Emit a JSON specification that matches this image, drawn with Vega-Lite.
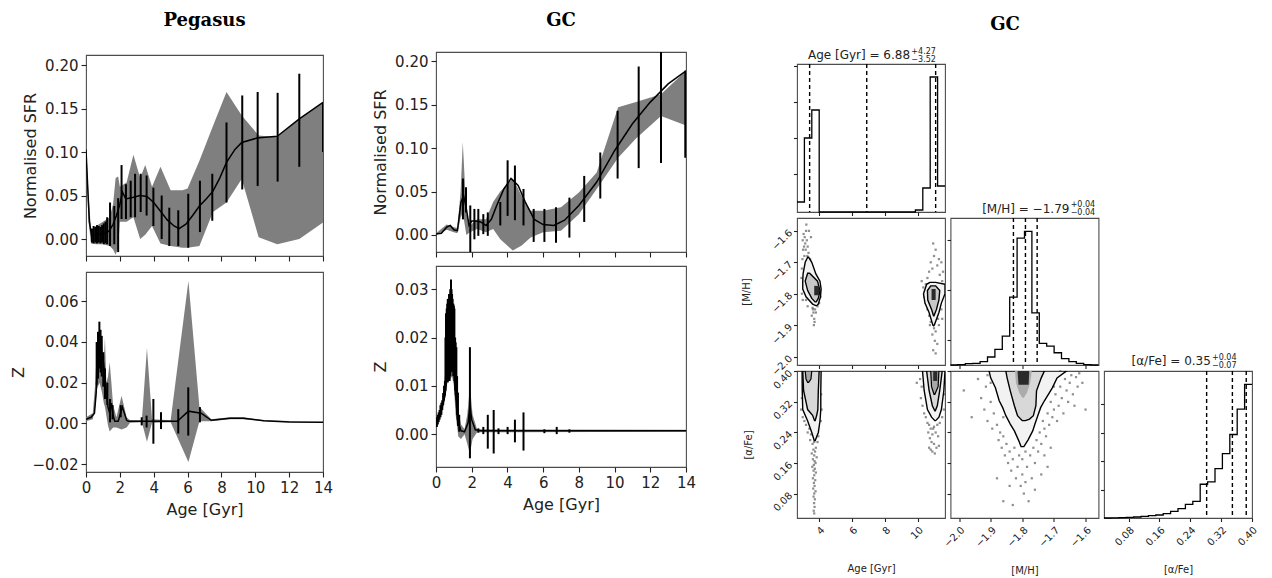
{
 "$schema": "https://vega.github.io/schema/vega-lite/v6.json",
 "padding": {"left": 9, "top": 11, "right": 5, "bottom": 2},
 "background": "white",
 "config": {
  "font": "DejaVu Sans",
  "view": {"stroke": "#4d4d4d", "strokeWidth": 1.1},
  "axis": {"domain": false, "grid": false, "tickColor": "#222", "tickSize": 5, "tickWidth": 1.1, "labelFont": "DejaVu Sans", "labelFontSize": 15, "labelColor": "#222", "labelFlush": false, "labelOverlap": false, "labelSeparation": -100, "titleFont": "DejaVu Sans", "titleFontSize": 16, "titleFontWeight": "normal", "titleColor": "#222", "labelPadding": 3, "titlePadding": 6},
  "title": {"font": "DejaVu Serif", "fontSize": 18, "fontWeight": "bold", "color": "black", "frame": "group", "anchor": "middle"}
 },
 "datasets": {
  "pegSFRline": [{"a":0,"y":0.103},{"a":0.1,"y":0.06},{"a":0.2,"y":0.02},{"a":0.33,"y":0.004},{"a":0.6,"y":0.005},{"a":0.9,"y":0.006},{"a":1.2,"y":0.007},{"a":1.4,"y":0.01},{"a":1.6,"y":0.017},{"a":1.8,"y":0.027},{"a":2.0,"y":0.04},{"a":2.15,"y":0.054},{"a":2.35,"y":0.046},{"a":2.8,"y":0.048},{"a":3.2,"y":0.05},{"a":3.6,"y":0.049},{"a":4.0,"y":0.042},{"a":4.4,"y":0.032},{"a":4.8,"y":0.022},{"a":5.2,"y":0.015},{"a":5.5,"y":0.012},{"a":5.9,"y":0.017},{"a":6.3,"y":0.027},{"a":6.7,"y":0.038},{"a":7.1,"y":0.046},{"a":7.5,"y":0.055},{"a":7.9,"y":0.07},{"a":8.3,"y":0.088},{"a":8.8,"y":0.103},{"a":9.2,"y":0.111},{"a":10.1,"y":0.116},{"a":11.3,"y":0.118},{"a":12.6,"y":0.138},{"a":14,"y":0.157}],
  "pegSFRband": [{"a":0,"y":0.09,"y2":0.112},{"a":0.15,"y":0.02,"y2":0.05},{"a":0.3,"y":-0.005,"y2":0.01},{"a":0.6,"y":-0.006,"y2":0.015},{"a":1.0,"y":-0.006,"y2":0.02},{"a":1.4,"y":-0.008,"y2":0.025},{"a":1.6,"y":-0.012,"y2":0.04},{"a":1.75,"y":-0.018,"y2":0.07},{"a":1.9,"y":-0.01,"y2":0.072},{"a":2.0,"y":0.02,"y2":0.06},{"a":2.4,"y":0.02,"y2":0.065},{"a":2.8,"y":0.025,"y2":0.097},{"a":3.2,"y":0.0,"y2":0.07},{"a":3.5,"y":0.005,"y2":0.085},{"a":3.9,"y":0.015,"y2":0.06},{"a":4.4,"y":-0.005,"y2":0.083},{"a":5.0,"y":-0.008,"y2":0.056},{"a":5.7,"y":-0.01,"y2":0.056},{"a":6.0,"y":-0.01,"y2":0.058},{"a":6.7,"y":-0.008,"y2":0.09},{"a":7.5,"y":0.031,"y2":0.13},{"a":8.3,"y":0.042,"y2":0.169},{"a":9.2,"y":0.069,"y2":0.142},{"a":10.2,"y":0.002,"y2":0.119},{"a":11.3,"y":-0.006,"y2":0.117},{"a":12.6,"y":0.0,"y2":0.138},{"a":14,"y":0.019,"y2":0.157}],
  "pegSFRerr": [{"a":0.35,"y":-0.004,"y2":0.012},{"a":0.45,"y":-0.005,"y2":0.015},{"a":0.55,"y":-0.004,"y2":0.014},{"a":0.65,"y":-0.005,"y2":0.016},{"a":0.75,"y":-0.004,"y2":0.015},{"a":0.85,"y":-0.005,"y2":0.014},{"a":0.95,"y":-0.004,"y2":0.016},{"a":1.05,"y":-0.006,"y2":0.018},{"a":1.15,"y":-0.005,"y2":0.02},{"a":1.25,"y":-0.006,"y2":0.025},{"a":1.42,"y":-0.008,"y2":0.042},{"a":1.67,"y":-0.006,"y2":0.038},{"a":1.9,"y":-0.015,"y2":0.047},{"a":2.1,"y":0.023,"y2":0.085},{"a":2.36,"y":0.023,"y2":0.063},{"a":2.64,"y":0.025,"y2":0.067},{"a":2.9,"y":0.025,"y2":0.075},{"a":3.23,"y":0.031,"y2":0.075},{"a":3.58,"y":0.027,"y2":0.073},{"a":3.98,"y":0.015,"y2":0.059},{"a":4.47,"y":0.0,"y2":0.05},{"a":4.92,"y":-0.008,"y2":0.036},{"a":5.45,"y":-0.008,"y2":0.033},{"a":6.04,"y":-0.01,"y2":0.052},{"a":6.73,"y":0.008,"y2":0.067},{"a":7.46,"y":0.021,"y2":0.075},{"a":8.3,"y":0.042,"y2":0.134},{"a":9.23,"y":0.057,"y2":0.165},{"a":10.14,"y":0.061,"y2":0.169},{"a":11.32,"y":0.066,"y2":0.168},{"a":12.6,"y":0.083,"y2":0.19},{"a":14,"y":0.1,"y2":0.157}],
  "pegZline": [{"a":0,"y":0.002},{"a":0.3,"y":0.003},{"a":0.5,"y":0.005},{"a":0.6,"y":0.015},{"a":0.7,"y":0.032},{"a":0.8,"y":0.043},{"a":0.9,"y":0.03},{"a":1.0,"y":0.032},{"a":1.1,"y":0.025},{"a":1.2,"y":0.015},{"a":1.3,"y":0.008},{"a":1.4,"y":0.005},{"a":1.5,"y":0.01},{"a":1.6,"y":0.004},{"a":1.7,"y":0.001},{"a":1.9,"y":0.001},{"a":2.15,"y":0.008},{"a":2.4,"y":0.0015},{"a":2.5,"y":0.001},{"a":5.4,"y":0.001},{"a":6.05,"y":0.006},{"a":6.8,"y":0.005},{"a":7.4,"y":0.0015},{"a":8.5,"y":0.0025},{"a":9.3,"y":0.0025},{"a":10.5,"y":0.0013},{"a":12,"y":0.0007},{"a":14,"y":0.0005}],
  "pegZband": [{"a":0,"y":0.001,"y2":0.003},{"a":0.4,"y":0.002,"y2":0.005},{"a":0.55,"y":0.008,"y2":0.02},{"a":0.65,"y":0.017,"y2":0.04},{"a":0.8,"y":0.02,"y2":0.041},{"a":0.95,"y":0.015,"y2":0.04},{"a":1.05,"y":0.01,"y2":0.03},{"a":1.12,"y":0.008,"y2":0.042},{"a":1.2,"y":0.004,"y2":0.02},{"a":1.3,"y":-0.001,"y2":0.023},{"a":1.4,"y":-0.004,"y2":0.03},{"a":1.5,"y":-0.003,"y2":0.02},{"a":1.6,"y":-0.002,"y2":0.009},{"a":1.8,"y":-0.002,"y2":0.003},{"a":2.1,"y":-0.003,"y2":0.0136},{"a":2.4,"y":-0.002,"y2":0.003},{"a":2.6,"y":0.0003,"y2":0.0015},{"a":3.3,"y":0.0005,"y2":0.0015},{"a":3.6,"y":-0.009,"y2":0.037},{"a":3.9,"y":0.0003,"y2":0.002},{"a":5.0,"y":0.0005,"y2":0.0015},{"a":6.05,"y":-0.019,"y2":0.07},{"a":6.7,"y":0.001,"y2":0.008},{"a":7.4,"y":0.001,"y2":0.002},{"a":8.5,"y":0.002,"y2":0.003},{"a":9.3,"y":0.002,"y2":0.003},{"a":10.5,"y":0.001,"y2":0.0015},{"a":14,"y":0.0003,"y2":0.0007}],
  "pegZerr": [{"a":0.63,"y":0.019,"y2":0.04},{"a":0.71,"y":0.022,"y2":0.045},{"a":0.79,"y":0.027,"y2":0.05},{"a":0.86,"y":0.025,"y2":0.046},{"a":0.93,"y":0.023,"y2":0.043},{"a":1.02,"y":0.018,"y2":0.035},{"a":1.12,"y":0.012,"y2":0.027},{"a":1.26,"y":0.009,"y2":0.02},{"a":1.42,"y":0.0005,"y2":0.012},{"a":1.57,"y":0.002,"y2":0.009},{"a":2.05,"y":0.003,"y2":0.009},{"a":3.29,"y":-0.001,"y2":0.003},{"a":3.58,"y":-0.002,"y2":0.0038},{"a":3.98,"y":-0.01,"y2":0.012},{"a":4.43,"y":-0.0028,"y2":0.0055},{"a":5.45,"y":-0.005,"y2":0.007},{"a":6.04,"y":-0.006,"y2":0.0177},{"a":6.73,"y":0.0005,"y2":0.008}],
  "gcSFRline": [{"a":0,"y":0.001},{"a":0.3,"y":0.002},{"a":0.6,"y":0.009},{"a":0.8,"y":0.011},{"a":1.0,"y":0.006},{"a":1.2,"y":0.005},{"a":1.4,"y":0.038},{"a":1.55,"y":0.045},{"a":1.7,"y":0.03},{"a":1.85,"y":0.011},{"a":2.0,"y":0.016},{"a":2.2,"y":0.016},{"a":2.5,"y":0.015},{"a":2.8,"y":0.011},{"a":3.1,"y":0.018},{"a":3.4,"y":0.034},{"a":3.8,"y":0.053},{"a":4.2,"y":0.065},{"a":4.6,"y":0.057},{"a":5.0,"y":0.038},{"a":5.5,"y":0.018},{"a":6.0,"y":0.012},{"a":6.6,"y":0.011},{"a":7.2,"y":0.017},{"a":8.0,"y":0.034},{"a":9.0,"y":0.061},{"a":10.0,"y":0.097},{"a":11.0,"y":0.128},{"a":12.0,"y":0.153},{"a":13.0,"y":0.174},{"a":14.0,"y":0.189}],
  "gcSFRband": [{"a":0,"y":0.0,"y2":0.002},{"a":0.6,"y":0.006,"y2":0.012},{"a":1.0,"y":0.003,"y2":0.009},{"a":1.2,"y":0.002,"y2":0.008},{"a":1.38,"y":0.02,"y2":0.05},{"a":1.5,"y":0.026,"y2":0.107},{"a":1.7,"y":0.0,"y2":0.026},{"a":1.9,"y":0.003,"y2":0.011},{"a":2.3,"y":0.007,"y2":0.018},{"a":2.8,"y":0.003,"y2":0.018},{"a":3.2,"y":0.007,"y2":0.038},{"a":3.6,"y":-0.005,"y2":0.05},{"a":4.3,"y":-0.018,"y2":0.065},{"a":4.8,"y":-0.012,"y2":0.045},{"a":5.3,"y":-0.003,"y2":0.028},{"a":6.0,"y":0.003,"y2":0.028},{"a":7.0,"y":0.005,"y2":0.032},{"a":8.0,"y":0.024,"y2":0.049},{"a":9.0,"y":0.053,"y2":0.072},{"a":10.2,"y":0.089,"y2":0.147},{"a":11.2,"y":0.111,"y2":0.153},{"a":12.6,"y":0.137,"y2":0.162},{"a":14,"y":0.126,"y2":0.189}],
  "gcSFRerr": [{"a":1.51,"y":0.018,"y2":0.065},{"a":1.68,"y":0.026,"y2":0.055},{"a":1.92,"y":-0.02,"y2":0.034},{"a":2.15,"y":-0.005,"y2":0.03},{"a":2.37,"y":-0.001,"y2":0.03},{"a":2.65,"y":0.001,"y2":0.024},{"a":2.9,"y":-0.001,"y2":0.026},{"a":3.6,"y":0.011,"y2":0.038},{"a":4.01,"y":0.022,"y2":0.086},{"a":4.42,"y":0.017,"y2":0.08},{"a":4.9,"y":0.011,"y2":0.053},{"a":5.47,"y":-0.008,"y2":0.03},{"a":6.07,"y":-0.008,"y2":0.03},{"a":6.72,"y":-0.009,"y2":0.032},{"a":7.47,"y":-0.003,"y2":0.043},{"a":8.3,"y":0.015,"y2":0.068},{"a":9.2,"y":0.042,"y2":0.095},{"a":10.17,"y":0.065,"y2":0.143},{"a":11.35,"y":0.077,"y2":0.194},{"a":12.6,"y":0.083,"y2":0.215},{"a":13.96,"y":0.089,"y2":0.189}],
  "gcZline": [{"a":0,"y":0.002},{"a":0.3,"y":0.005},{"a":0.5,"y":0.008},{"a":0.6,"y":0.011},{"a":0.7,"y":0.018},{"a":0.8,"y":0.022},{"a":0.9,"y":0.026},{"a":1.0,"y":0.018},{"a":1.1,"y":0.0086},{"a":1.2,"y":0.003},{"a":1.4,"y":0.0007},{"a":1.6,"y":0.0005},{"a":1.8,"y":0.0024},{"a":1.9,"y":0.006},{"a":2.0,"y":0.003},{"a":2.2,"y":0.0009},{"a":2.5,"y":0.0007},{"a":14,"y":0.0007}],
  "gcZband": [{"a":0,"y":0.0015,"y2":0.0025},{"a":0.3,"y":0.004,"y2":0.006},{"a":0.5,"y":0.007,"y2":0.012},{"a":0.6,"y":0.011,"y2":0.025},{"a":0.75,"y":0.011,"y2":0.028},{"a":0.9,"y":0.012,"y2":0.028},{"a":1.0,"y":0.01,"y2":0.022},{"a":1.1,"y":0.004,"y2":0.014},{"a":1.25,"y":-0.0005,"y2":0.005},{"a":1.4,"y":-0.001,"y2":0.002},{"a":1.6,"y":0.0,"y2":0.001},{"a":1.75,"y":-0.002,"y2":0.004},{"a":1.9,"y":-0.004,"y2":0.01},{"a":2.05,"y":-0.001,"y2":0.004},{"a":2.3,"y":0.0004,"y2":0.001},{"a":14,"y":0.0005,"y2":0.0009}],
  "gcZerr": [{"a":0.05,"y":0.0015,"y2":0.0035},{"a":0.1,"y":0.002,"y2":0.004},{"a":0.15,"y":0.0025,"y2":0.0045},{"a":0.2,"y":0.003,"y2":0.005},{"a":0.25,"y":0.0035,"y2":0.006},{"a":0.3,"y":0.004,"y2":0.0065},{"a":0.35,"y":0.005,"y2":0.007},{"a":0.4,"y":0.006,"y2":0.0085},{"a":0.45,"y":0.007,"y2":0.01},{"a":0.5,"y":0.008,"y2":0.011},{"a":0.53,"y":0.009,"y2":0.02},{"a":0.56,"y":0.01,"y2":0.025},{"a":0.6,"y":0.011,"y2":0.026},{"a":0.63,"y":0.011,"y2":0.027},{"a":0.66,"y":0.0107,"y2":0.028},{"a":0.7,"y":0.011,"y2":0.027},{"a":0.73,"y":0.011,"y2":0.029},{"a":0.76,"y":0.011,"y2":0.028},{"a":0.8,"y":0.012,"y2":0.03},{"a":0.84,"y":0.0128,"y2":0.032},{"a":0.87,"y":0.013,"y2":0.03},{"a":0.9,"y":0.013,"y2":0.029},{"a":0.93,"y":0.013,"y2":0.028},{"a":0.97,"y":0.012,"y2":0.027},{"a":1.0,"y":0.012,"y2":0.0266},{"a":1.03,"y":0.011,"y2":0.026},{"a":1.07,"y":0.009,"y2":0.02},{"a":1.1,"y":0.008,"y2":0.019},{"a":1.14,"y":0.007,"y2":0.018},{"a":1.18,"y":0.004,"y2":0.012},{"a":1.23,"y":0.0017,"y2":0.0086},{"a":1.3,"y":0.0005,"y2":0.004},{"a":1.9,"y":-0.005,"y2":0.018},{"a":2.37,"y":0.0003,"y2":0.0012},{"a":2.65,"y":0.0,"y2":0.0015},{"a":2.9,"y":-0.003,"y2":0.004},{"a":3.23,"y":-0.004,"y2":0.005},{"a":3.5,"y":0.0,"y2":0.0012},{"a":4.01,"y":0.0,"y2":0.0015},{"a":4.42,"y":-0.0017,"y2":0.003},{"a":4.9,"y":-0.0034,"y2":0.0045},{"a":6.07,"y":0.0002,"y2":0.001},{"a":6.76,"y":0.0,"y2":0.0015},{"a":7.47,"y":0.0003,"y2":0.001}],
  "ageHist": [{"e":2.65,"h":10},{"e":3.101,"h":74},{"e":3.552,"h":102},{"e":4.003,"h":0},{"e":9.866,"h":2},{"e":10.317,"h":24},{"e":10.768,"h":135},{"e":11.219,"h":26},{"e":11.67,"h":26}],
  "ageQ": [{"e":3.42},{"e":6.9},{"e":11.1}],
  "mhHist": [{"e":-2.027,"h":0},{"e":-2.0036,"h":0.3},{"e":-1.9802,"h":1.3},{"e":-1.9568,"h":1.7},{"e":-1.9334,"h":3.3},{"e":-1.91,"h":8},{"e":-1.8866,"h":15.7},{"e":-1.8632,"h":29},{"e":-1.8398,"h":68},{"e":-1.8164,"h":127.3},{"e":-1.793,"h":134},{"e":-1.7696,"h":52.3},{"e":-1.7462,"h":21.7},{"e":-1.7228,"h":19},{"e":-1.6994,"h":12.3},{"e":-1.676,"h":6.3},{"e":-1.6526,"h":3.3},{"e":-1.6292,"h":1.7},{"e":-1.6058,"h":0.3},{"e":-1.5824,"h":0},{"e":-1.559,"h":0}],
  "mhQ": [{"e":-1.828},{"e":-1.79},{"e":-1.753}],
  "alHist": [{"e":0.016,"h":0},{"e":0.03525,"h":0.17},{"e":0.0545,"h":0.33},{"e":0.07375,"h":0.67},{"e":0.093,"h":1},{"e":0.11225,"h":1.67},{"e":0.1315,"h":2.33},{"e":0.15075,"h":3},{"e":0.17,"h":4.33},{"e":0.18925,"h":6.67},{"e":0.2085,"h":9.33},{"e":0.22775,"h":13.67},{"e":0.247,"h":16.67},{"e":0.26625,"h":33.67},{"e":0.2855,"h":36},{"e":0.30475,"h":49.33},{"e":0.324,"h":64.33},{"e":0.34325,"h":83.33},{"e":0.3625,"h":108.67},{"e":0.38175,"h":133.33},{"e":0.401,"h":133.33}],
  "alQ": [{"e":0.283},{"e":0.35},{"e":0.386}],
  "ptsMhAge": [{"x":3.05,"y":-1.61},{"x":3.12,"y":-1.62},{"x":3.2,"y":-1.6},{"x":3.0,"y":-1.63},{"x":3.15,"y":-1.64},{"x":3.25,"y":-1.63},{"x":3.08,"y":-1.65},{"x":3.3,"y":-1.65},{"x":3.18,"y":-1.66},{"x":3.02,"y":-1.66},{"x":3.35,"y":-1.67},{"x":3.1,"y":-1.68},{"x":3.28,"y":-1.68},{"x":3.45,"y":-1.69},{"x":2.98,"y":-1.69},{"x":3.4,"y":-1.7},{"x":3.55,"y":-1.71},{"x":2.95,"y":-1.72},{"x":3.6,"y":-1.73},{"x":3.7,"y":-1.74},{"x":2.92,"y":-1.75},{"x":3.85,"y":-1.76},{"x":3.95,"y":-1.77},{"x":4.05,"y":-1.79},{"x":4.08,"y":-1.81},{"x":2.95,"y":-1.8},{"x":3.0,"y":-1.82},{"x":4.0,"y":-1.83},{"x":3.6,"y":-1.845},{"x":3.75,"y":-1.85},{"x":3.65,"y":-1.86},{"x":3.8,"y":-1.86},{"x":3.55,"y":-1.87},{"x":3.7,"y":-1.88},{"x":3.68,"y":-1.9},{"x":3.62,"y":-1.85},{"x":3.9,"y":-1.84},{"x":3.3,"y":-1.84},{"x":3.2,"y":-1.82},{"x":3.5,"y":-1.62},{"x":3.38,"y":-1.6},{"x":3.22,"y":-1.58},{"x":3.72,"y":-1.89},{"x":10.95,"y":-1.64},{"x":11.1,"y":-1.66},{"x":11.0,"y":-1.68},{"x":11.3,"y":-1.69},{"x":10.8,"y":-1.7},{"x":11.2,"y":-1.71},{"x":11.45,"y":-1.7},{"x":10.9,"y":-1.72},{"x":11.55,"y":-1.73},{"x":10.7,"y":-1.73},{"x":11.35,"y":-1.74},{"x":10.6,"y":-1.75},{"x":11.5,"y":-1.76},{"x":10.5,"y":-1.77},{"x":10.45,"y":-1.79},{"x":10.4,"y":-1.81},{"x":10.5,"y":-1.83},{"x":10.6,"y":-1.85},{"x":11.45,"y":-1.85},{"x":11.5,"y":-1.88},{"x":10.7,"y":-1.87},{"x":10.75,"y":-1.9},{"x":11.3,"y":-1.9},{"x":11.1,"y":-1.92},{"x":10.9,"y":-1.93},{"x":11.05,"y":-1.95},{"x":11.2,"y":-1.96},{"x":10.95,"y":-1.98},{"x":11.1,"y":-1.99},{"x":11.0,"y":-1.91},{"x":10.8,"y":-1.89},{"x":11.25,"y":-1.88},{"x":10.35,"y":-1.78},{"x":11.6,"y":-1.8},{"x":10.25,"y":-1.76}],
  "cMhAge": [{"g":"L","k":"o","y":-1.684,"x":3.3,"x2":3.36},{"g":"L","k":"o","y":-1.7,"x":3.15,"x2":3.55},{"g":"L","k":"o","y":-1.737,"x":3.02,"x2":3.8},{"g":"L","k":"o","y":-1.76,"x":3.0,"x2":4.05},{"g":"L","k":"o","y":-1.785,"x":3.0,"x2":4.12},{"g":"L","k":"o","y":-1.81,"x":3.2,"x2":4.08},{"g":"L","k":"o","y":-1.833,"x":3.6,"x2":3.95},{"g":"L","k":"o","y":-1.838,"x":3.8,"x2":3.85},
   {"g":"L","k":"m","y":-1.735,"x":3.3,"x2":3.42},{"g":"L","k":"m","y":-1.76,"x":3.15,"x2":3.9},{"g":"L","k":"m","y":-1.79,"x":3.3,"x2":4.05},{"g":"L","k":"m","y":-1.815,"x":3.55,"x2":3.95},{"g":"L","k":"m","y":-1.826,"x":3.75,"x2":3.82},
   {"g":"L","k":"c","y":-1.775,"x":3.7,"x2":4.0},{"g":"L","k":"c","y":-1.805,"x":3.7,"x2":4.0},
   {"g":"R","k":"o","y":-1.764,"x":10.75,"x2":11.1},{"g":"R","k":"o","y":-1.77,"x":10.55,"x2":11.67},{"g":"R","k":"o","y":-1.8,"x":10.36,"x2":11.67},{"g":"R","k":"o","y":-1.83,"x":10.45,"x2":11.45},{"g":"R","k":"o","y":-1.86,"x":10.7,"x2":11.3},{"g":"R","k":"o","y":-1.9,"x":10.93,"x2":11.02},{"g":"R","k":"o","y":-1.902,"x":10.97,"x2":10.98},
   {"g":"R","k":"m","y":-1.775,"x":10.8,"x2":11.1},{"g":"R","k":"m","y":-1.79,"x":10.6,"x2":11.35},{"g":"R","k":"m","y":-1.82,"x":10.62,"x2":11.3},{"g":"R","k":"m","y":-1.85,"x":10.85,"x2":11.15},{"g":"R","k":"m","y":-1.87,"x":10.97,"x2":11.0},
   {"g":"R","k":"c","y":-1.785,"x":10.85,"x2":11.1},{"g":"R","k":"c","y":-1.82,"x":10.85,"x2":11.1}],
  "ptsAlAge": [{"x":3.7,"y":0.215},{"x":3.6,"y":0.21},{"x":3.8,"y":0.2},{"x":3.65,"y":0.195},{"x":3.75,"y":0.19},{"x":3.55,"y":0.185},{"x":3.7,"y":0.18},{"x":3.85,"y":0.175},{"x":3.62,"y":0.17},{"x":3.72,"y":0.165},{"x":3.78,"y":0.16},{"x":3.68,"y":0.155},{"x":3.58,"y":0.15},{"x":3.74,"y":0.145},{"x":3.66,"y":0.14},{"x":3.8,"y":0.135},{"x":3.7,"y":0.128},{"x":3.62,"y":0.12},{"x":3.76,"y":0.115},{"x":3.68,"y":0.108},{"x":3.72,"y":0.1},{"x":3.64,"y":0.093},{"x":3.78,"y":0.086},{"x":3.7,"y":0.08},{"x":3.66,"y":0.072},{"x":3.74,"y":0.065},{"x":3.69,"y":0.055},{"x":3.72,"y":0.045},{"x":3.67,"y":0.035},{"x":3.7,"y":0.028},{"x":2.95,"y":0.33},{"x":2.9,"y":0.3},{"x":3.0,"y":0.28},{"x":3.1,"y":0.27},{"x":3.2,"y":0.26},{"x":3.4,"y":0.25},{"x":4.1,"y":0.27},{"x":4.15,"y":0.3},{"x":4.12,"y":0.34},{"x":3.3,"y":0.24},{"x":3.5,"y":0.235},{"x":3.95,"y":0.23},{"x":3.9,"y":0.215},{"x":3.45,"y":0.22},{"x":10.25,"y":0.36},{"x":10.2,"y":0.33},{"x":10.3,"y":0.31},{"x":10.4,"y":0.29},{"x":10.5,"y":0.28},{"x":11.5,"y":0.28},{"x":11.6,"y":0.3},{"x":11.62,"y":0.34},{"x":10.6,"y":0.265},{"x":10.7,"y":0.26},{"x":10.8,"y":0.25},{"x":11.0,"y":0.255},{"x":11.2,"y":0.26},{"x":11.35,"y":0.265},{"x":10.65,"y":0.24},{"x":10.9,"y":0.235},{"x":11.1,"y":0.24},{"x":10.75,"y":0.225},{"x":11.25,"y":0.23},{"x":10.85,"y":0.215},{"x":11.0,"y":0.21},{"x":10.7,"y":0.2},{"x":11.15,"y":0.2},{"x":10.9,"y":0.19},{"x":11.05,"y":0.185},{"x":10.8,"y":0.195},{"x":11.3,"y":0.205},{"x":10.95,"y":0.25},{"x":10.15,"y":0.38},{"x":9.95,"y":0.37}],
  "cAlAge": [{"g":"L","k":"o","y":0.219,"x":3.7,"x2":3.76},{"g":"L","k":"o","y":0.24,"x":3.55,"x2":3.95},{"g":"L","k":"o","y":0.27,"x":3.3,"x2":4.05},{"g":"L","k":"o","y":0.3,"x":3.0,"x2":4.1},{"g":"L","k":"o","y":0.35,"x":2.97,"x2":4.1},{"g":"L","k":"o","y":0.401,"x":2.96,"x2":4.12},
   {"g":"L","k":"m","y":0.271,"x":3.72,"x2":3.76},{"g":"L","k":"m","y":0.285,"x":3.6,"x2":3.85},{"g":"L","k":"m","y":0.3,"x":3.3,"x2":3.92},{"g":"L","k":"m","y":0.35,"x":3.05,"x2":3.95},{"g":"L","k":"m","y":0.401,"x":3.0,"x2":4.0},
   {"g":"L","k":"i","y":0.371,"x":3.3,"x2":3.36},{"g":"L","k":"i","y":0.38,"x":3.2,"x2":3.5},{"g":"L","k":"i","y":0.401,"x":3.15,"x2":3.55},
   {"g":"R","k":"o","y":0.271,"x":11.05,"x2":11.1},{"g":"R","k":"o","y":0.28,"x":10.85,"x2":11.3},{"g":"R","k":"o","y":0.3,"x":10.6,"x2":11.45},{"g":"R","k":"o","y":0.35,"x":10.4,"x2":11.6},{"g":"R","k":"o","y":0.401,"x":10.3,"x2":11.67},
   {"g":"R","k":"m","y":0.297,"x":11.05,"x2":11.08},{"g":"R","k":"m","y":0.31,"x":10.9,"x2":11.2},{"g":"R","k":"m","y":0.35,"x":10.7,"x2":11.35},{"g":"R","k":"m","y":0.401,"x":10.55,"x2":11.5},
   {"g":"R","k":"i","y":0.34,"x":11.0,"x2":11.05},{"g":"R","k":"i","y":0.36,"x":10.85,"x2":11.25},{"g":"R","k":"i","y":0.401,"x":10.8,"x2":11.3},
   {"g":"R","k":"c","y":0.375,"x":10.95,"x2":11.2},{"g":"R","k":"c","y":0.401,"x":10.95,"x2":11.2}],
  "ptsAlMh": [{"x":-1.985,"y":0.35},{"x":-1.96,"y":0.28},{"x":-1.94,"y":0.38},{"x":-1.93,"y":0.33},{"x":-1.92,"y":0.3},{"x":-1.915,"y":0.36},{"x":-1.91,"y":0.27},{"x":-1.9,"y":0.32},{"x":-1.895,"y":0.25},{"x":-1.89,"y":0.29},{"x":-1.88,"y":0.26},{"x":-1.875,"y":0.22},{"x":-1.87,"y":0.24},{"x":-1.865,"y":0.2},{"x":-1.86,"y":0.23},{"x":-1.855,"y":0.18},{"x":-1.85,"y":0.21},{"x":-1.845,"y":0.16},{"x":-1.84,"y":0.19},{"x":-1.835,"y":0.14},{"x":-1.83,"y":0.17},{"x":-1.825,"y":0.2},{"x":-1.82,"y":0.12},{"x":-1.815,"y":0.15},{"x":-1.81,"y":0.18},{"x":-1.805,"y":0.1},{"x":-1.8,"y":0.13},{"x":-1.8,"y":0.17},{"x":-1.795,"y":0.08},{"x":-1.79,"y":0.19},{"x":-1.79,"y":0.11},{"x":-1.785,"y":0.15},{"x":-1.78,"y":0.06},{"x":-1.775,"y":0.18},{"x":-1.77,"y":0.12},{"x":-1.765,"y":0.2},{"x":-1.76,"y":0.16},{"x":-1.755,"y":0.22},{"x":-1.75,"y":0.19},{"x":-1.745,"y":0.24},{"x":-1.74,"y":0.21},{"x":-1.735,"y":0.27},{"x":-1.73,"y":0.25},{"x":-1.725,"y":0.23},{"x":-1.72,"y":0.29},{"x":-1.715,"y":0.26},{"x":-1.71,"y":0.32},{"x":-1.705,"y":0.28},{"x":-1.7,"y":0.3},{"x":-1.695,"y":0.34},{"x":-1.69,"y":0.27},{"x":-1.685,"y":0.31},{"x":-1.68,"y":0.36},{"x":-1.675,"y":0.33},{"x":-1.67,"y":0.29},{"x":-1.665,"y":0.38},{"x":-1.66,"y":0.35},{"x":-1.655,"y":0.32},{"x":-1.65,"y":0.37},{"x":-1.645,"y":0.39},{"x":-1.64,"y":0.34},{"x":-1.635,"y":0.31},{"x":-1.63,"y":0.385},{"x":-1.625,"y":0.36},{"x":-1.62,"y":0.395},{"x":-1.61,"y":0.37},{"x":-1.6,"y":0.3},{"x":-1.73,"y":0.18},{"x":-1.72,"y":0.15},{"x":-1.71,"y":0.2},{"x":-1.84,"y":0.1},{"x":-1.83,"y":0.05},{"x":-1.86,"y":0.06},{"x":-1.76,"y":0.09},{"x":-1.74,"y":0.13},{"x":-1.88,"y":0.12},{"x":-1.9,"y":0.37},{"x":-1.91,"y":0.39},{"x":-1.87,"y":0.35},{"x":-1.86,"y":0.28},{"x":-1.69,"y":0.39},{"x":-1.7,"y":0.36},{"x":-1.68,"y":0.4}],
  "cAlMh": [{"k":"o","y":0.203,"x":-1.804,"x2":-1.795},{"k":"o","y":0.22,"x":-1.812,"x2":-1.782},{"k":"o","y":0.244,"x":-1.825,"x2":-1.767},{"k":"o","y":0.262,"x":-1.838,"x2":-1.76},{"k":"o","y":0.284,"x":-1.852,"x2":-1.751},{"k":"o","y":0.305,"x":-1.862,"x2":-1.742},{"k":"o","y":0.323,"x":-1.873,"x2":-1.73},{"k":"o","y":0.357,"x":-1.885,"x2":-1.705},{"k":"o","y":0.383,"x":-1.9,"x2":-1.69},{"k":"o","y":0.401,"x":-1.905,"x2":-1.66},
   {"k":"m","y":0.271,"x":-1.8,"x2":-1.79},{"k":"m","y":0.275,"x":-1.805,"x2":-1.777},{"k":"m","y":0.284,"x":-1.815,"x2":-1.765},{"k":"m","y":0.31,"x":-1.825,"x2":-1.757},{"k":"m","y":0.349,"x":-1.838,"x2":-1.755},{"k":"m","y":0.383,"x":-1.848,"x2":-1.74},{"k":"m","y":0.401,"x":-1.852,"x2":-1.73},
   {"k":"i","y":0.331,"x":-1.8,"x2":-1.795},{"k":"i","y":0.345,"x":-1.81,"x2":-1.785},{"k":"i","y":0.37,"x":-1.82,"x2":-1.775},{"k":"i","y":0.401,"x":-1.823,"x2":-1.77},
   {"k":"c","y":0.365,"x":-1.812,"x2":-1.78},{"k":"c","y":0.401,"x":-1.815,"x2":-1.778}]
 },
 "spacing": 44,
 "hconcat": [
  {
   "spacing": 38,
   "hconcat": [
    {
     "bounds": "flush",
     "spacing": 16,
     "vconcat": [
      {"width": 237, "height": 4, "data": {"values": [{}]}, "mark": {"type": "text", "text": ""}, "view": {"stroke": null}, "title": {"text": "Pegasus", "offset": 1}},
      {
       "width": 237, "height": 201,
       "encoding": {
        "x": {"field": "a", "type": "quantitative", "scale": {"domain": [0, 14]}, "axis": {"values": [0,2,4,6,8,10,12,14], "labels": false, "labelOverlap": false, "labelSeparation": -100}, "title": null},
        "y": {"field": "y", "type": "quantitative", "scale": {"domain": [-0.0195, 0.2115]}, "axis": {"values": [0,0.05,0.1,0.15,0.2], "format": ".2f", "labelOverlap": false, "labelSeparation": -100}, "title": "Normalised SFR"}
       },
       "layer": [
        {"data": {"name": "pegSFRband"}, "mark": {"type": "area", "color": "#7f7f7f", "opacity": 1, "clip": true}, "encoding": {"y2": {"field": "y2"}}},
        {"data": {"name": "pegSFRline"}, "mark": {"type": "line", "color": "black", "strokeWidth": 1.5, "clip": true}},
        {"data": {"name": "pegSFRerr"}, "mark": {"type": "rule", "color": "black", "strokeWidth": 2, "clip": true}, "encoding": {"y2": {"field": "y2"}}}
       ]
      },
      {
       "width": 237, "height": 200,
       "encoding": {
        "x": {"field": "a", "type": "quantitative", "scale": {"domain": [0, 14]}, "axis": {"values": [0,2,4,6,8,10,12,14], "format": "d", "labelOverlap": false, "labelSeparation": -100, "labelFlush": false}, "title": "Age [Gyr]"},
        "y": {"field": "y", "type": "quantitative", "scale": {"domain": [-0.0239, 0.0744]}, "axis": {"values": [-0.02,0,0.02,0.04,0.06], "format": ".2f", "labelOverlap": false, "labelSeparation": -100}, "title": "Z"}
       },
       "layer": [
        {"data": {"name": "pegZband"}, "mark": {"type": "area", "color": "#7f7f7f", "opacity": 1, "clip": true}, "encoding": {"y2": {"field": "y2"}}},
        {"data": {"name": "pegZline"}, "mark": {"type": "line", "color": "black", "strokeWidth": 1.5, "clip": true}},
        {"data": {"name": "pegZerr"}, "mark": {"type": "rule", "color": "black", "strokeWidth": 2, "clip": true}, "encoding": {"y2": {"field": "y2"}}}
       ]
      }
     ]
    },
    {
     "bounds": "flush",
     "spacing": 14,
     "vconcat": [
      {"width": 250, "height": 3, "data": {"values": [{}]}, "mark": {"type": "text", "text": ""}, "view": {"stroke": null}, "title": {"text": "GC", "offset": 1}},
      {
       "width": 250, "height": 200,
       "encoding": {
        "x": {"field": "a", "type": "quantitative", "scale": {"domain": [0, 14]}, "axis": {"values": [0,2,4,6,8,10,12,14], "labels": false, "labelOverlap": false, "labelSeparation": -100}, "title": null},
        "y": {"field": "y", "type": "quantitative", "scale": {"domain": [-0.0196, 0.2107]}, "axis": {"values": [0,0.05,0.1,0.15,0.2], "format": ".2f", "labelOverlap": false, "labelSeparation": -100}, "title": "Normalised SFR"}
       },
       "layer": [
        {"data": {"name": "gcSFRband"}, "mark": {"type": "area", "color": "#7f7f7f", "opacity": 1, "clip": true}, "encoding": {"y2": {"field": "y2"}}},
        {"data": {"name": "gcSFRline"}, "mark": {"type": "line", "color": "black", "strokeWidth": 1.5, "clip": true}},
        {"data": {"name": "gcSFRerr"}, "mark": {"type": "rule", "color": "black", "strokeWidth": 2, "clip": true}, "encoding": {"y2": {"field": "y2"}}}
       ]
      },
      {
       "width": 250, "height": 201,
       "encoding": {
        "x": {"field": "a", "type": "quantitative", "scale": {"domain": [0, 14]}, "axis": {"values": [0,2,4,6,8,10,12,14], "format": "d", "labelOverlap": false, "labelSeparation": -100, "labelFlush": false}, "title": "Age [Gyr]"},
        "y": {"field": "y", "type": "quantitative", "scale": {"domain": [-0.0068, 0.0348]}, "axis": {"values": [0,0.01,0.02,0.03], "format": ".2f", "labelOverlap": false, "labelSeparation": -100}, "title": "Z"}
       },
       "layer": [
        {"data": {"name": "gcZband"}, "mark": {"type": "area", "color": "#7f7f7f", "opacity": 1, "clip": true}, "encoding": {"y2": {"field": "y2"}}},
        {"data": {"name": "gcZline"}, "mark": {"type": "line", "color": "black", "strokeWidth": 1.5, "clip": true}},
        {"data": {"name": "gcZerr"}, "mark": {"type": "rule", "color": "black", "strokeWidth": 2, "clip": true}, "encoding": {"y2": {"field": "y2"}}}
       ]
      }
     ]
    }
   ]
  },
  {
   "bounds": "flush",
   "columns": 3,
   "spacing": {"row": 6, "column": 5.5},
   "concat": [
    {"width": 148, "height": 23, "data": {"values": [{}]}, "mark": {"type": "text", "text": ""}, "view": {"stroke": null}, "title": {"text": "GC", "offset": 1, "dx": 134}},
    {"width": 148, "height": 23, "data": {"values": [{}]}, "mark": {"type": "text", "text": ""}, "view": {"stroke": null}},
    {"width": 148, "height": 23, "data": {"values": [{}]}, "mark": {"type": "text", "text": ""}, "view": {"stroke": null}},
    {
     "width": 148, "height": 148,
     "layer": [
      {"data": {"name": "ageHist"}, "mark": {"type": "line", "interpolate": "step-after", "color": "black", "strokeWidth": 1.3},
       "encoding": {"x": {"field": "e", "type": "quantitative", "scale": {"domain": [2.65, 11.67]}, "axis": {"values": [4,6,8,10], "labels": false, "tickSize": 3.5}, "title": null},
                    "y": {"field": "h", "type": "quantitative", "scale": {"domain": [0, 148]}, "axis": {"values": [38,74,110,146], "labels": false, "tickSize": 3.5}, "title": null}}},
      {"data": {"name": "ageQ"}, "mark": {"type": "rule", "color": "black", "strokeWidth": 1.4, "strokeDash": [4, 3]},
       "encoding": {"x": {"field": "e", "type": "quantitative", "scale": {"domain": [2.65, 11.67]}, "axis": {"values": [4,6,8,10], "labels": false, "tickSize": 3.5}, "title": null}}},
      {"data": {"values": [{}]}, "mark": {"type": "text", "text": "Age [Gyr] = 6.88", "align": "right", "baseline": "alphabetic", "fontSize": 12, "color": "#222"},
       "encoding": {"x": {"datum": 9.54, "scale": {"domain": [2.65, 11.67]}}, "y": {"datum": 153, "scale": {"domain": [0, 148]}}}},
      {"data": {"values": [{}]}, "mark": {"type": "text", "text": "+4.27", "align": "left", "baseline": "alphabetic", "fontSize": 8, "color": "#222"},
       "encoding": {"x": {"datum": 9.62, "scale": {"domain": [2.65, 11.67]}}, "y": {"datum": 158, "scale": {"domain": [0, 148]}}}},
      {"data": {"values": [{}]}, "mark": {"type": "text", "text": "−3.52", "align": "left", "baseline": "alphabetic", "fontSize": 8, "color": "#222"},
       "encoding": {"x": {"datum": 9.62, "scale": {"domain": [2.65, 11.67]}}, "y": {"datum": 150, "scale": {"domain": [0, 148]}}}}
     ]
    },
    {"width": 148, "height": 148, "data": {"values": [{}]}, "mark": {"type": "text", "text": ""}, "view": {"stroke": null}},
    {"width": 148, "height": 148, "data": {"values": [{}]}, "mark": {"type": "text", "text": ""}, "view": {"stroke": null}},
    {
     "width": 148, "height": 147,
     "encoding": {
      "x": {"field": "x", "type": "quantitative", "scale": {"domain": [2.65, 11.67]}, "axis": {"values": [4,6,8,10], "labels": false, "tickSize": 3.5}, "title": null},
      "y": {"field": "y", "type": "quantitative", "scale": {"domain": [-2.027, -1.559]}, "axis": {"values": [-2.0,-1.9,-1.8,-1.7,-1.6], "format": ".1f", "labelAngle": -45, "labelFontSize": 10, "titleFontSize": 10, "tickSize": 3.5, "titlePadding": 18, "labelOverlap": false, "labelSeparation": -100}, "title": "[M/H]"}
     },
     "layer": [
      {"data": {"name": "ptsMhAge"}, "mark": {"type": "square", "size": 5, "color": "#333", "opacity": 0.55}},
      {"data": {"name": "cMhAge"}, "transform": [{"filter": "datum.k === 'o'"}], "mark": {"type": "area", "orient": "horizontal", "fill": "#f2f2f2", "stroke": "black", "strokeWidth": 1.4, "clip": true},
       "encoding": {"x2": {"field": "x2"}, "detail": {"field": "g"}}},
      {"data": {"name": "cMhAge"}, "transform": [{"filter": "datum.k === 'm'"}], "mark": {"type": "area", "orient": "horizontal", "fill": "#c8c8c8", "stroke": "black", "strokeWidth": 1.4, "clip": true},
       "encoding": {"x2": {"field": "x2"}, "detail": {"field": "g"}}},
      {"data": {"name": "cMhAge"}, "transform": [{"filter": "datum.k === 'c'"}], "mark": {"type": "area", "orient": "horizontal", "fill": "#2a2a2a", "clip": true},
       "encoding": {"x2": {"field": "x2"}, "detail": {"field": "g"}}}
     ]
    },
    {
     "width": 148, "height": 147,
     "layer": [
      {"data": {"name": "mhHist"}, "mark": {"type": "line", "interpolate": "step-after", "color": "black", "strokeWidth": 1.3},
       "encoding": {"x": {"field": "e", "type": "quantitative", "scale": {"domain": [-2.027, -1.559]}, "axis": {"values": [-2.0,-1.9,-1.8,-1.7,-1.6], "labels": false, "tickSize": 3.5}, "title": null},
                    "y": {"field": "h", "type": "quantitative", "scale": {"domain": [0, 147.4]}, "axis": {"values": [25,50,75,100,125], "labels": false, "tickSize": 3.5}, "title": null}}},
      {"data": {"name": "mhQ"}, "mark": {"type": "rule", "color": "black", "strokeWidth": 1.4, "strokeDash": [4, 3]},
       "encoding": {"x": {"field": "e", "type": "quantitative", "scale": {"domain": [-2.027, -1.559]}, "axis": {"values": [-2.0,-1.9,-1.8,-1.7,-1.6], "labels": false, "tickSize": 3.5}, "title": null}}},
      {"data": {"values": [{}]}, "mark": {"type": "text", "text": "[M/H] = −1.79", "align": "right", "baseline": "alphabetic", "fontSize": 12, "color": "#222"},
       "encoding": {"x": {"datum": -1.651, "scale": {"domain": [-2.027, -1.559]}}, "y": {"datum": 152.5, "scale": {"domain": [0, 147.4]}}}},
      {"data": {"values": [{}]}, "mark": {"type": "text", "text": "+0.04", "align": "left", "baseline": "alphabetic", "fontSize": 8, "color": "#222"},
       "encoding": {"x": {"datum": -1.647, "scale": {"domain": [-2.027, -1.559]}}, "y": {"datum": 158, "scale": {"domain": [0, 147.4]}}}},
      {"data": {"values": [{}]}, "mark": {"type": "text", "text": "−0.04", "align": "left", "baseline": "alphabetic", "fontSize": 8, "color": "#222"},
       "encoding": {"x": {"datum": -1.647, "scale": {"domain": [-2.027, -1.559]}}, "y": {"datum": 150, "scale": {"domain": [0, 147.4]}}}}
     ]
    },
    {"width": 148, "height": 147, "data": {"values": [{}]}, "mark": {"type": "text", "text": ""}, "view": {"stroke": null}},
    {
     "width": 148, "height": 147,
     "encoding": {
      "x": {"field": "x", "type": "quantitative", "scale": {"domain": [2.65, 11.67]}, "axis": {"values": [4,6,8,10], "format": "d", "labelAngle": -45, "labelFontSize": 10, "titleFontSize": 10, "tickSize": 3.5, "titlePadding": 23, "labelOverlap": false, "labelSeparation": -100}, "title": "Age [Gyr]"},
      "y": {"field": "y", "type": "quantitative", "scale": {"domain": [0.016, 0.401]}, "axis": {"values": [0.08,0.16,0.24,0.32,0.4], "format": ".2f", "labelAngle": -45, "labelFontSize": 10, "titleFontSize": 10, "tickSize": 3.5, "titlePadding": 18, "labelOverlap": false, "labelSeparation": -100}, "title": "[α/Fe]"}
     },
     "layer": [
      {"data": {"name": "ptsAlAge"}, "mark": {"type": "square", "size": 5, "color": "#333", "opacity": 0.55}},
      {"data": {"name": "cAlAge"}, "transform": [{"filter": "datum.k === 'o'"}], "mark": {"type": "area", "orient": "horizontal", "fill": "#f2f2f2", "stroke": "black", "strokeWidth": 1.4, "clip": true},
       "encoding": {"x2": {"field": "x2"}, "detail": {"field": "g"}}},
      {"data": {"name": "cAlAge"}, "transform": [{"filter": "datum.k === 'm'"}], "mark": {"type": "area", "orient": "horizontal", "fill": "#d8d8d8", "stroke": "black", "strokeWidth": 1.4, "clip": true},
       "encoding": {"x2": {"field": "x2"}, "detail": {"field": "g"}}},
      {"data": {"name": "cAlAge"}, "transform": [{"filter": "datum.k === 'i'"}], "mark": {"type": "area", "orient": "horizontal", "fill": "#a8a8a8", "stroke": "black", "strokeWidth": 1.2, "clip": true},
       "encoding": {"x2": {"field": "x2"}, "detail": {"field": "g"}}},
      {"data": {"name": "cAlAge"}, "transform": [{"filter": "datum.k === 'c'"}], "mark": {"type": "area", "orient": "horizontal", "fill": "#2a2a2a", "clip": true},
       "encoding": {"x2": {"field": "x2"}, "detail": {"field": "g"}}}
     ]
    },
    {
     "width": 148, "height": 147,
     "encoding": {
      "x": {"field": "x", "type": "quantitative", "scale": {"domain": [-2.027, -1.559]}, "axis": {"values": [-2.0,-1.9,-1.8,-1.7,-1.6], "format": ".1f", "labelAngle": -45, "labelFontSize": 10, "titleFontSize": 10, "tickSize": 3.5, "titlePadding": 17, "labelOverlap": false, "labelSeparation": -100}, "title": "[M/H]"},
      "y": {"field": "y", "type": "quantitative", "scale": {"domain": [0.016, 0.401]}, "axis": {"values": [0.08,0.16,0.24,0.32,0.4], "labels": false, "tickSize": 3.5}, "title": null}
     },
     "layer": [
      {"data": {"name": "ptsAlMh"}, "mark": {"type": "square", "size": 5, "color": "#333", "opacity": 0.55}},
      {"data": {"name": "cAlMh"}, "transform": [{"filter": "datum.k === 'o'"}], "mark": {"type": "area", "orient": "horizontal", "fill": "#f2f2f2", "stroke": "black", "strokeWidth": 1.4, "clip": true},
       "encoding": {"x2": {"field": "x2"}}},
      {"data": {"name": "cAlMh"}, "transform": [{"filter": "datum.k === 'm'"}], "mark": {"type": "area", "orient": "horizontal", "fill": "#d8d8d8", "stroke": "black", "strokeWidth": 1.4, "clip": true},
       "encoding": {"x2": {"field": "x2"}}},
      {"data": {"name": "cAlMh"}, "transform": [{"filter": "datum.k === 'i'"}], "mark": {"type": "area", "orient": "horizontal", "fill": "#ababab", "clip": true},
       "encoding": {"x2": {"field": "x2"}}},
      {"data": {"name": "cAlMh"}, "transform": [{"filter": "datum.k === 'c'"}], "mark": {"type": "area", "orient": "horizontal", "fill": "#2a2a2a", "clip": true},
       "encoding": {"x2": {"field": "x2"}}}
     ]
    },
    {
     "width": 148, "height": 147,
     "layer": [
      {"data": {"name": "alHist"}, "mark": {"type": "line", "interpolate": "step-after", "color": "black", "strokeWidth": 1.3},
       "encoding": {"x": {"field": "e", "type": "quantitative", "scale": {"domain": [0.016, 0.401]}, "axis": {"values": [0.08,0.16,0.24,0.32,0.4], "format": ".2f", "labelAngle": -45, "labelFontSize": 10, "titleFontSize": 10, "tickSize": 3.5, "titlePadding": 17, "labelOverlap": false, "labelSeparation": -100}, "title": "[α/Fe]"},
                    "y": {"field": "h", "type": "quantitative", "scale": {"domain": [0, 146.7]}, "axis": {"values": [28,56.5,85,114], "labels": false, "tickSize": 3.5}, "title": null}}},
      {"data": {"name": "alQ"}, "mark": {"type": "rule", "color": "black", "strokeWidth": 1.4, "strokeDash": [4, 3]},
       "encoding": {"x": {"field": "e", "type": "quantitative", "scale": {"domain": [0.016, 0.401]}, "axis": {"values": [0.08,0.16,0.24,0.32,0.4], "format": ".2f", "labelAngle": -45, "labelFontSize": 10, "titleFontSize": 10, "tickSize": 3.5, "titlePadding": 17, "labelOverlap": false, "labelSeparation": -100}, "title": "[α/Fe]"}}},
      {"data": {"values": [{}]}, "mark": {"type": "text", "text": "[α/Fe] = 0.35", "align": "right", "baseline": "alphabetic", "fontSize": 12, "color": "#222"},
       "encoding": {"x": {"datum": 0.294, "scale": {"domain": [0.016, 0.401]}, "axis": {"values": [0.08,0.16,0.24,0.32,0.4], "format": ".2f", "labelAngle": -45, "labelFontSize": 10, "titleFontSize": 10, "tickSize": 3.5, "titlePadding": 17, "labelOverlap": false, "labelSeparation": -100}, "title": "[α/Fe]"}, "y": {"datum": 152.5, "scale": {"domain": [0, 146.7]}}}},
      {"data": {"values": [{}]}, "mark": {"type": "text", "text": "+0.04", "align": "left", "baseline": "alphabetic", "fontSize": 8, "color": "#222"},
       "encoding": {"x": {"datum": 0.297, "scale": {"domain": [0.016, 0.401]}, "axis": {"values": [0.08,0.16,0.24,0.32,0.4], "format": ".2f", "labelAngle": -45, "labelFontSize": 10, "titleFontSize": 10, "tickSize": 3.5, "titlePadding": 17, "labelOverlap": false, "labelSeparation": -100}, "title": "[α/Fe]"}, "y": {"datum": 158, "scale": {"domain": [0, 146.7]}}}},
      {"data": {"values": [{}]}, "mark": {"type": "text", "text": "−0.07", "align": "left", "baseline": "alphabetic", "fontSize": 8, "color": "#222"},
       "encoding": {"x": {"datum": 0.297, "scale": {"domain": [0.016, 0.401]}, "axis": {"values": [0.08,0.16,0.24,0.32,0.4], "format": ".2f", "labelAngle": -45, "labelFontSize": 10, "titleFontSize": 10, "tickSize": 3.5, "titlePadding": 17, "labelOverlap": false, "labelSeparation": -100}, "title": "[α/Fe]"}, "y": {"datum": 150, "scale": {"domain": [0, 146.7]}}}}
     ]
    }
   ]
  }
 ]
}
